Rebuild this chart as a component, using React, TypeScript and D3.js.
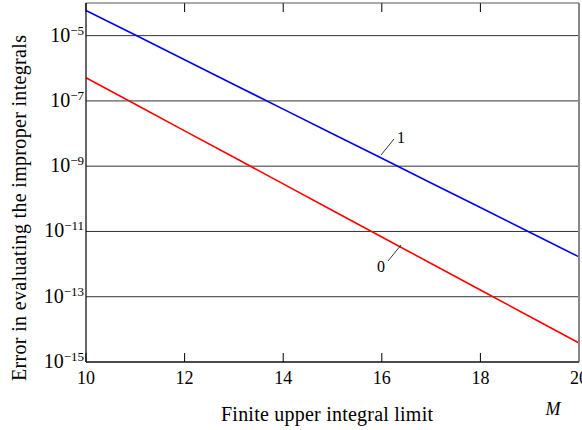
import React from "react";
import * as d3 from "d3";

const mValues = [10, 11, 12, 13, 14, 15, 16, 17, 18, 19, 20];
const series1 = [5.9e-5, 1.04e-5, 1.82e-6, 3.2e-7, 5.6e-8, 9.9e-9, 1.74e-9, 3.05e-10, 5.4e-11, 9.4e-12, 1.66e-12];
const series0 = [5.1e-7, 7.9e-8, 1.21e-8, 1.87e-9, 2.87e-10, 4.4e-11, 6.8e-12, 1.04e-12, 1.61e-13, 2.47e-14, 3.8e-15];
const xTicks = [10, 12, 14, 16, 18, 20];
const yTickExps = [-5, -7, -9, -11, -13, -15];

const W = 582;
const H = 430;
const L = 86;
const R = 579;
const T = 3;
const B = 362;

export default function App() {
  const x = d3.scaleLinear().domain([10, 20]).range([L, R]);
  const y = d3.scaleLog().domain([1e-15, 1e-4]).range([B, T]);
  const line = d3
    .line<[number, number]>()
    .x((d) => x(d[0]))
    .y((d) => y(d[1]));
  const d1 = line(mValues.map((m, i) => [m, series1[i]] as [number, number])) || "";
  const d0 = line(mValues.map((m, i) => [m, series0[i]] as [number, number])) || "";
  const serif = "'Liberation Serif', 'Times New Roman', serif";
  return (
    <svg
      width={W}
      height={H}
      style={{ position: "absolute", left: 0, top: 0, background: "#fff" }}
    >
      {yTickExps.map((e) => (
        <line key={"g" + e} x1={L} x2={R} y1={y(Math.pow(10, e))} y2={y(Math.pow(10, e))} stroke="#333" strokeWidth={1} />
      ))}
      {xTicks.map((t) => (
        <g key={"xt" + t}>
          <line x1={x(t)} x2={x(t)} y1={B} y2={B - 9} stroke="#000" />
          <line x1={x(t)} x2={x(t)} y1={T} y2={T + 9} stroke="#000" />
          <text x={x(t)} y={B + 22} textAnchor="middle" fontFamily={serif} fontSize={18} fill="#000">
            {t}
          </text>
        </g>
      ))}
      {yTickExps.map((e) => (
        <text key={"yl" + e} x={L - 2} y={y(Math.pow(10, e)) + 6} textAnchor="end" fontFamily={serif} fontSize={20} fill="#000">
          10
          <tspan dy={-7} fontSize={13}>
            {"\u2212" + Math.abs(e)}
          </tspan>
        </text>
      ))}
      <path d={d1} fill="none" stroke="#0000ff" strokeWidth={1.6} />
      <path d={d0} fill="none" stroke="#ff0000" strokeWidth={1.6} />
      <line x1={L} x2={R} y1={T} y2={T} stroke="#555" strokeWidth={1.2} />
      <line x1={R} x2={R} y1={T} y2={B} stroke="#888" strokeWidth={2} />
      <line x1={L} x2={L} y1={T} y2={B} stroke="#000" strokeWidth={1.2} />
      <line x1={L} x2={R} y1={B} y2={B} stroke="#000" strokeWidth={1.2} />
      <line x1={381} x2={394} y1={155} y2={139} stroke="#000" strokeWidth={0.8} />
      <text x={397} y={143} fontFamily={serif} fontSize={16} fill="#000">1</text>
      <line x1={401} x2={388} y1={245} y2={261} stroke="#000" strokeWidth={0.8} />
      <text x={377} y={272} fontFamily={serif} fontSize={16} fill="#000">0</text>
      <text
        transform={`translate(26,${208}) rotate(-90)`}
        textAnchor="middle"
        fontFamily={serif}
        fontSize={20}
        textLength={346}
        lengthAdjust="spacing"
        fill="#000"
      >
        Error in evaluating the improper integrals
      </text>
      <text x={327} y={421} textAnchor="middle" fontFamily={serif} fontSize={20} textLength={212} lengthAdjust="spacing" fill="#000">
        Finite upper integral limit
      </text>
      <text x={553} y={415} textAnchor="middle" fontFamily={serif} fontStyle="italic" fontSize={18} fill="#000">
        M
      </text>
    </svg>
  );
}
